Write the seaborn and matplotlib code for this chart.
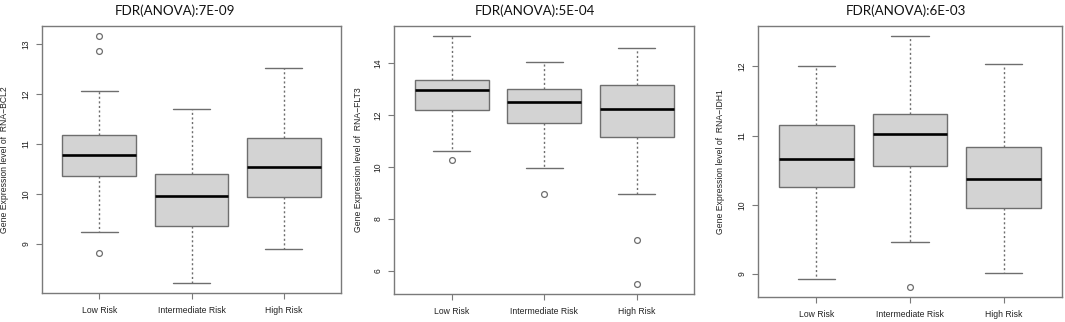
import numpy as np
import pandas as pd
import matplotlib
matplotlib.use("Agg")
import matplotlib.pyplot as plt
import seaborn as sns

# ---------------- data ----------------
groups = ["Low Risk", "Intermediate Risk", "High Risk"]
titles = ["FDR(ANOVA):7E-09", "FDR(ANOVA):5E-04", "FDR(ANOVA):6E-03"]
genes = ["BCL2", "FLT3", "IDH1"]

# five-number summaries per group: [lower whisker, Q1, median, Q3, upper whisker]
bcl2_stats = [[9.23, 10.35, 10.79, 11.19, 12.07],
              [8.21, 9.36, 9.96, 10.40, 11.71],
              [8.89, 9.93, 10.53, 11.12, 12.53]]
bcl2_outliers = [[13.17, 12.87, 8.81], [], []]

flt3_stats = [[10.61, 12.18, 12.94, 13.32, 15.03],
              [9.97, 11.70, 12.48, 13.00, 14.04],
              [8.95, 11.14, 12.22, 13.14, 14.58]]
flt3_outliers = [[10.28], [8.96], [7.21, 5.50]]

idh1_stats = [[8.93, 10.26, 10.67, 11.16, 12.01],
              [9.47, 10.56, 11.02, 11.32, 12.44],
              [9.01, 9.96, 10.38, 10.83, 12.03]]
idh1_outliers = [[], [8.81], []]

yticks_bcl2 = [9, 10, 11, 12, 13]
yticks_flt3 = [6, 8, 10, 12, 14]
yticks_idh1 = [9, 10, 11, 12]

panels = [
    (bcl2_stats, bcl2_outliers, yticks_bcl2),
    (flt3_stats, flt3_outliers, yticks_flt3),
    (idh1_stats, idh1_outliers, yticks_idh1),
]


def expand(stats, outliers):
    """Observations whose quartiles / whiskers / fliers equal the summary."""
    lw, q1, med, q3, uw = stats
    lo = sorted(o for o in outliers if o < q1)
    hi = sorted(o for o in outliers if o > q3)
    k = max(len(lo), len(hi)) + 1
    n = 4 * k + 1
    vals = [None] * n
    for i, o in enumerate(lo):
        vals[i] = o
    vals[len(lo)] = lw
    vals[k] = q1
    vals[2 * k] = med
    vals[3 * k] = q3
    vals[n - 1 - len(hi)] = uw
    for i, o in enumerate(hi):
        vals[n - len(hi) + i] = o
    for i in range(n):
        if vals[i] is None:
            vals[i] = vals[i - 1]
    return vals


# ---------------- style ----------------
sns.set_style("ticks")
plt.rcParams["font.family"] = ["Liberation Sans", "DejaVu Sans"]

W, H = 1065, 322
fig = plt.figure(figsize=(W / 100, H / 100), dpi=100)

# axes boxes in pixels: left, right, top, bottom
boxes_px = [(42, 341, 26, 293), (394.3, 694.3, 26, 294), (758.3, 1061.7, 26, 297.3)]
title_x = [175, 535, 906]
ylabel_x = [9, 363, 725]   # pixel x of the y-label anchor

edge = "#6e6e6e"
frame = "#7a7a7a"

for p, ((stats, outl, yt), (l, r, t, b)) in enumerate(zip(panels, boxes_px)):
    ax = fig.add_axes([l / W, 1 - b / H, (r - l) / W, (b - t) / H])
    rows = []
    for g, st, ou in zip(groups, stats, outl):
        for v in expand(st, ou):
            rows.append({"group": g, "value": v})
    df = pd.DataFrame(rows)

    sns.boxplot(
        data=df, x="group", y="value", order=groups, ax=ax,
        whis=1.6, width=0.8, color="#D3D3D3", saturation=1,
        linecolor=edge, linewidth=1.0,
        boxprops=dict(facecolor="#D3D3D3", edgecolor=edge, linewidth=1.0),
        medianprops=dict(color="black", linewidth=1.9, solid_capstyle="butt"),
        whiskerprops=dict(color=edge, linewidth=1.0, linestyle=(0, (1.5, 1.8))),
        capprops=dict(color=edge, linewidth=1.0),
        flierprops=dict(marker="o", markersize=4.2, markerfacecolor="none",
                        markeredgecolor=edge, markeredgewidth=0.9),
    )

    allv = df["value"].to_numpy()
    lo, hi = allv.min(), allv.max()
    pad = (hi - lo) * 0.04
    ax.set_ylim(lo - pad, hi + pad)
    ax.set_xlim(-0.62, 2.62)
    ax.set_yticks(yt)
    ax.set_yticklabels([str(v) for v in yt])
    ax.set_xlabel("")
    ax.set_ylabel("Gene Expression level of  RNA\u2212" + genes[p], fontsize=6.2,
                  color="#222222")
    ax.yaxis.set_label_coords((ylabel_x[p] - l) / (r - l), 0.5)
    ax.tick_params(axis="y", labelrotation=90, labelsize=6.2, length=4.5, width=0.8,
                   color=frame, pad=4, labelcolor="#222222")
    ax.tick_params(axis="x", labelsize=6.2, length=4.5, width=0.8, color=frame,
                   pad=5, labelcolor="#222222")
    for lab in ax.get_yticklabels():
        lab.set_va("center")
    for s in ax.spines.values():
        s.set_visible(True)
        s.set_color(frame)
        s.set_linewidth(1.0)

    fig.text(title_x[p] / W, 1 - 11 / H, titles[p], ha="center", va="center",
             fontsize=9.6, family=["Lato", "DejaVu Sans"], color="#111111")

fig.savefig("out.png", dpi=100)
